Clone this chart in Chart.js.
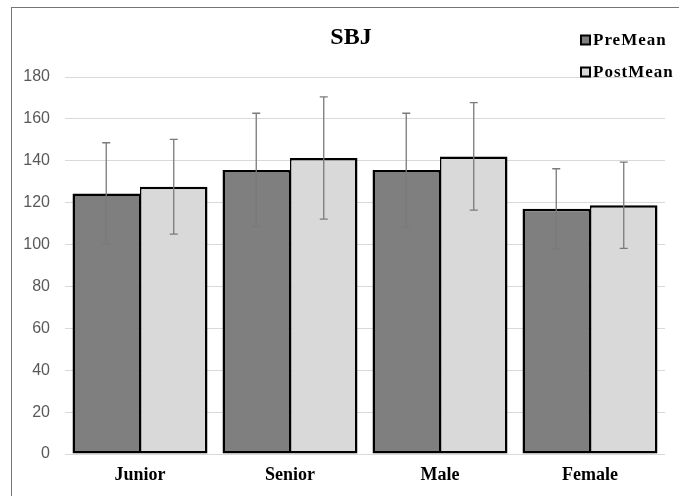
<!DOCTYPE html>
<html>
<head>
<meta charset="utf-8">
<title>SBJ</title>
<script src="https://cdn.jsdelivr.net/npm/chart.js@4.4.1/dist/chart.umd.min.js"></script>
<style>
  html, body { margin: 0; padding: 0; background: #ffffff; }
  #wrap { width: 679px; height: 496px; position: relative; }
</style>
</head>
<body>
<div id="wrap"><canvas id="chart" width="679" height="496"></canvas></div>
<script>
// Standing broad jump (SBJ) results, pre and post, by group
const categories = ['Junior', 'Senior', 'Male', 'Female'];
const preMean  = [124.4, 135.6, 135.6, 117.1];
const postMean = [127.6, 141.3, 142.1, 118.8];
const preSD    = [24.2, 27.1, 27.1, 19.1];
const postSD   = [22.6, 29.2, 25.7, 20.6];
const yTicks   = [0, 20, 40, 60, 80, 100, 120, 140, 160, 180];
const chartTitle = 'SBJ';

const serif = '"Liberation Serif", "Times New Roman", serif';
const sans = '"Liberation Sans", Arial, sans-serif';

// White background and the outer frame line
const framePlugin = {
  id: 'frame',
  beforeDraw(chart) {
    const ctx = chart.ctx;
    ctx.save();
    ctx.fillStyle = '#ffffff';
    ctx.fillRect(0, 0, chart.width, chart.height);
    ctx.strokeStyle = '#767676';
    ctx.lineWidth = 1;
    ctx.strokeRect(11.5, 7.5, chart.width + 50, chart.height + 50);
    ctx.restore();
  }
};

// Standard deviation whiskers on each bar
const errorBarPlugin = {
  id: 'errorBars',
  afterDatasetsDraw(chart) {
    const ctx = chart.ctx;
    const y = chart.scales.y;
    chart.data.datasets.forEach((ds, i) => {
      const meta = chart.getDatasetMeta(i);
      meta.data.forEach((bar, j) => {
        const m = ds.data[j];
        const sd = ds.sd[j];
        const top = y.getPixelForValue(m + sd);
        const bot = y.getPixelForValue(m - sd);
        const x = bar.x;
        ctx.save();
        ctx.strokeStyle = '#7a7a7a';
        ctx.lineWidth = 1.3;
        ctx.beginPath();
        ctx.moveTo(x, top); ctx.lineTo(x, bot);
        ctx.moveTo(x - 4, top); ctx.lineTo(x + 4, top);
        ctx.moveTo(x - 4, bot); ctx.lineTo(x + 4, bot);
        ctx.stroke();
        ctx.restore();
      });
    });
  }
};

// Title and the stacked legend in the top-right corner
const headerPlugin = {
  id: 'header',
  afterDraw(chart) {
    const ctx = chart.ctx;
    ctx.save();
    ctx.fillStyle = '#000000';
    ctx.font = 'bold 24px ' + serif;
    ctx.textAlign = 'center';
    ctx.textBaseline = 'middle';
    ctx.fillText(chartTitle, 351, 38);

    ctx.font = 'bold 17px ' + serif;
    ctx.textAlign = 'left';
    if ('letterSpacing' in ctx) ctx.letterSpacing = '1px';
    const rows = [40, 72];
    chart.data.datasets.forEach((ds, i) => {
      const cy = rows[i];
      ctx.fillStyle = ds.backgroundColor;
      ctx.fillRect(581, cy - 4.5, 9, 9);
      ctx.strokeStyle = '#000000';
      ctx.lineWidth = 2;
      ctx.strokeRect(581, cy - 4.5, 9, 9);
      ctx.fillStyle = '#000000';
      ctx.fillText(ds.label, 593, cy + 1);
    });
    ctx.restore();
  }
};

new Chart(document.getElementById('chart'), {
  type: 'bar',
  data: {
    labels: categories,
    datasets: [
      {
        label: 'PreMean',
        data: preMean,
        sd: preSD,
        backgroundColor: '#7f7f7f',
        borderColor: '#000000',
        borderWidth: { left: 2.5, right: 1.5, top: 2.5, bottom: 2.5 },
        borderSkipped: false
      },
      {
        label: 'PostMean',
        data: postMean,
        sd: postSD,
        backgroundColor: '#d9d9d9',
        borderColor: '#000000',
        borderWidth: { left: 1.5, right: 2.5, top: 2.5, bottom: 2.5 },
        borderSkipped: false
      }
    ]
  },
  options: {
    responsive: false,
    animation: false,
    devicePixelRatio: 1,
    layout: { padding: { top: 77, right: 14, bottom: 9, left: 0 } },
    datasets: { bar: { barPercentage: 1.0, categoryPercentage: 0.9 } },
    plugins: {
      legend: { display: false },
      title: { display: false },
      tooltip: { enabled: false }
    },
    scales: {
      x: {
        afterFit(scale) { scale.height = 33; },
        grid: { display: false, drawTicks: false },
        border: { display: false },
        ticks: {
          color: '#000000',
          maxRotation: 0,
          font: { family: serif, size: 18, weight: 'bold' },
          padding: 11
        }
      },
      y: {
        min: 0,
        max: 180,
        afterFit(scale) { scale.width = 65; },
        afterBuildTicks(scale) { scale.ticks = yTicks.map(v => ({ value: v })); },
        grid: { color: '#d9d9d9', lineWidth: 1, drawTicks: false },
        border: { display: false },
        ticks: {
          color: '#595959',
          font: { family: sans, size: 16 },
          padding: 15
        }
      }
    }
  },
  plugins: [framePlugin, errorBarPlugin, headerPlugin]
});
</script>
</body>
</html>
